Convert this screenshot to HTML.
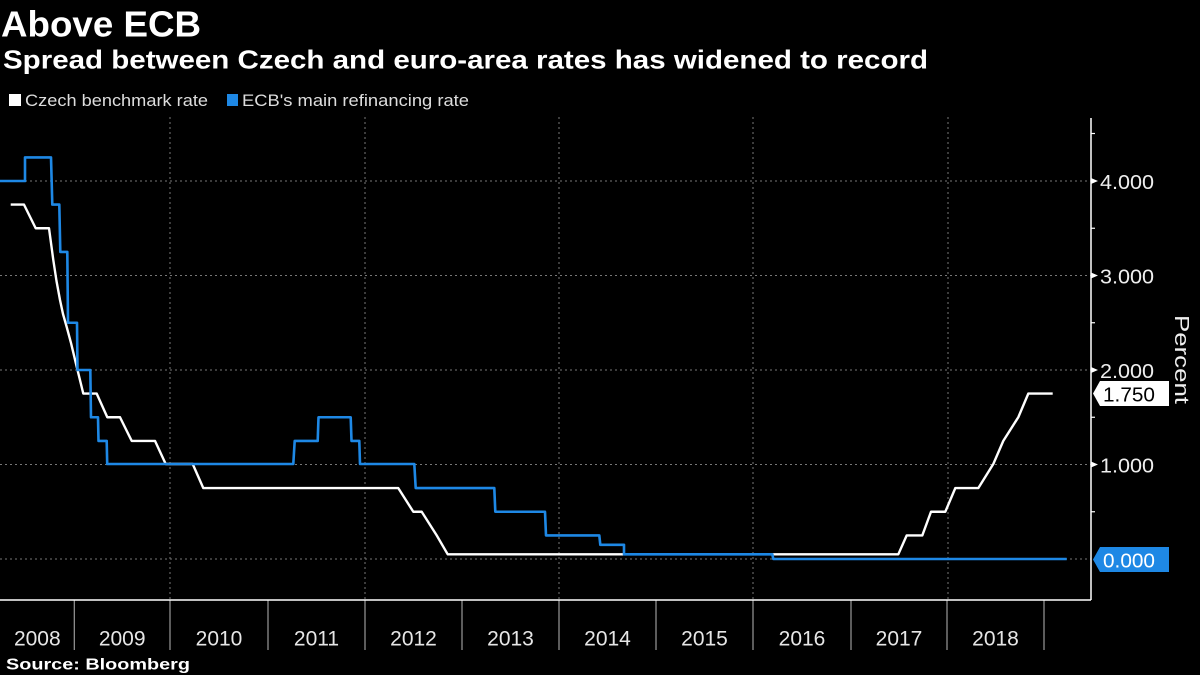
<!DOCTYPE html>
<html><head><meta charset="utf-8"><style>
html,body{margin:0;padding:0;background:#000;}
svg{display:block;}
text{font-family:"Liberation Sans",sans-serif;}
</style></head><body>
<svg width="1200" height="675" viewBox="0 0 1200 675" xmlns="http://www.w3.org/2000/svg">
<rect width="1200" height="675" fill="#000"/>
<text x="1" y="36.7" font-size="36" font-weight="bold" fill="#fff" textLength="200" lengthAdjust="spacingAndGlyphs">Above ECB</text>
<text x="3" y="68.3" font-size="26" font-weight="bold" fill="#fff" textLength="925" lengthAdjust="spacingAndGlyphs">Spread between Czech and euro-area rates has widened to record</text>
<rect x="9" y="94" width="12" height="12" fill="#fff"/>
<text x="25" y="106" font-size="17" fill="#ddd" textLength="183" lengthAdjust="spacingAndGlyphs">Czech benchmark rate</text>
<rect x="227" y="94" width="11" height="12" fill="#1e88e5"/>
<text x="242" y="106" font-size="17" fill="#ddd" textLength="227" lengthAdjust="spacingAndGlyphs">ECB's main refinancing rate</text>
<g stroke="#777" stroke-width="1" stroke-dasharray="2,3">
<line x1="0" y1="181" x2="1091" y2="181"/>
<line x1="0" y1="275.5" x2="1091" y2="275.5"/>
<line x1="0" y1="370" x2="1091" y2="370"/>
<line x1="0" y1="464.5" x2="1091" y2="464.5"/>
<line x1="0" y1="559" x2="1091" y2="559"/>
<line x1="170" y1="117" x2="170" y2="600"/>
<line x1="365" y1="117" x2="365" y2="600"/>
<line x1="559" y1="117" x2="559" y2="600"/>
<line x1="753" y1="117" x2="753" y2="600"/>
<line x1="948" y1="117" x2="948" y2="600"/>
</g>
<g stroke="#999" stroke-width="1.2">
<line x1="74.3" y1="600" x2="74.3" y2="650"/>
<line x1="170" y1="600" x2="170" y2="650"/>
<line x1="268" y1="600" x2="268" y2="650"/>
<line x1="365" y1="600" x2="365" y2="650"/>
<line x1="462" y1="600" x2="462" y2="650"/>
<line x1="559" y1="600" x2="559" y2="650"/>
<line x1="656" y1="600" x2="656" y2="650"/>
<line x1="753" y1="600" x2="753" y2="650"/>
<line x1="851" y1="600" x2="851" y2="650"/>
<line x1="947" y1="600" x2="947" y2="650"/>
<line x1="1044" y1="600" x2="1044" y2="650"/>
</g>
<g font-size="21" fill="#e6e6e6" text-anchor="middle">
<text x="37.3" y="645.7">2008</text>
<text x="122.2" y="645.7">2009</text>
<text x="219" y="645.7">2010</text>
<text x="316.5" y="645.7">2011</text>
<text x="413.5" y="645.7">2012</text>
<text x="510.5" y="645.7">2013</text>
<text x="607.5" y="645.7">2014</text>
<text x="704.5" y="645.7">2015</text>
<text x="802" y="645.7">2016</text>
<text x="899" y="645.7">2017</text>
<text x="995.5" y="645.7">2018</text>
</g>
<text x="6" y="669.3" font-size="16" font-weight="bold" fill="#fff" textLength="184" lengthAdjust="spacingAndGlyphs">Source:  Bloomberg</text>
<path d="M10.7,204.6 H24 L35.7,228.25 H49 L51,243 L53.3,260 L56.5,281 L60,300 L63,314 L66.7,327 L71,343 L76.7,366.7 L83.3,393.6 H96.7 L107.3,417.25 H120 L131.7,440.9 H155 L165.7,464 H192.7 L203.3,488.1 H398.3 L413.3,511.75 H421.7 L436.7,535.4 L447.7,554.3 H898.3 L906.7,535.4 H922.3 L931,511.75 H945.3 L955.3,488.1 H978.3 L993.3,464 L1003.3,440.9 L1018.3,417.25 L1028.3,393.6 H1052.7" fill="none" stroke="#fff" stroke-width="2.4" stroke-linejoin="round"/>
<path d="M0,181 H25 V157.4 H51 L52.3,204.6 H59.3 L60.3,251.9 H67.3 L68,322.75 H77 L77.5,370 H90.3 L91,417.25 H98 L98.5,440.9 H106.7 L107.2,464 H293.3 L294.7,440.9 H317.7 L318.5,417.25 H350.7 L351.5,440.9 H359.3 L360,464 H414.3 L415.7,488.1 H494.3 L495.3,511.75 H545 L546,535.4 H599.3 L600.3,544.8 H624 V554.3 H772.3 L773.3,559 H1066.7" fill="none" stroke="#1e88e5" stroke-width="2.6" stroke-linejoin="round"/>
<line x1="0" y1="600" x2="1091" y2="600" stroke="#fff" stroke-width="1.5"/>
<line x1="1091" y1="118" x2="1091" y2="600" stroke="#fff" stroke-width="1.5"/>
<g stroke="#fff" stroke-width="1.2">
<line x1="1091" y1="133.5" x2="1095" y2="133.5"/>
<line x1="1091" y1="228.25" x2="1095" y2="228.25"/>
<line x1="1091" y1="322.75" x2="1095" y2="322.75"/>
<line x1="1091" y1="417.25" x2="1095" y2="417.25"/>
<line x1="1091" y1="511.75" x2="1095" y2="511.75"/>
</g>
<g fill="#fff">
<polygon points="1091,178 1098,181 1091,184"/>
<polygon points="1091,272.5 1098,275.5 1091,278.5"/>
<polygon points="1091,367 1098,370 1091,373"/>
<polygon points="1091,461.5 1098,464.5 1091,467.5"/>
</g>
<g font-size="20" fill="#eee">
<text x="1100" y="189" textLength="54" lengthAdjust="spacingAndGlyphs">4.000</text>
<text x="1100" y="283.5" textLength="54" lengthAdjust="spacingAndGlyphs">3.000</text>
<text x="1100" y="378" textLength="54" lengthAdjust="spacingAndGlyphs">2.000</text>
<text x="1100" y="472.5" textLength="54" lengthAdjust="spacingAndGlyphs">1.000</text>
</g>
<polygon points="1093,393.5 1100,381 1169,381 1169,406 1100,406" fill="#fff"/>
<text x="1103" y="401.5" font-size="20" fill="#000" textLength="52" lengthAdjust="spacingAndGlyphs">1.750</text>
<polygon points="1093,559.5 1100,547 1169,547 1169,572 1100,572" fill="#1e88e5"/>
<text x="1103" y="567.5" font-size="20" fill="#fff" textLength="52" lengthAdjust="spacingAndGlyphs">0.000</text>
<text transform="translate(1175,315) rotate(90)" font-size="20" fill="#eee" textLength="89" lengthAdjust="spacingAndGlyphs">Percent</text>
</svg>
</body></html>
